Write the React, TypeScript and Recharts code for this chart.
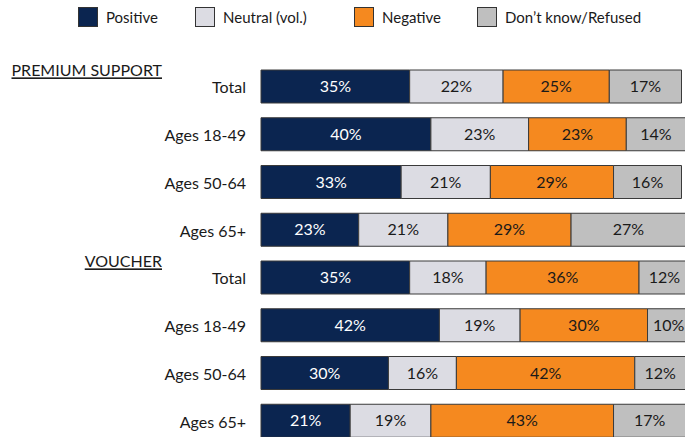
import { BarChart, Bar, XAxis, YAxis, LabelList } from "recharts";

const groups = ["Total", "Ages 18-49", "Ages 50-64", "Ages 65+", "Total", "Ages 18-49", "Ages 50-64", "Ages 65+"];
const headers = ["PREMIUM SUPPORT", "", "", "", "VOUCHER", "", "", ""];
const positive = [35, 40, 33, 23, 35, 42, 30, 21];
const neutral = [22, 23, 21, 21, 18, 19, 16, 19];
const negative = [25, 23, 29, 29, 36, 30, 42, 43];
const dontKnow = [17, 14, 16, 27, 12, 10, 12, 17];

const series = [
  { key: "positive", name: "Positive", color: "#0b2550", text: "#ffffff", lx: 78 },
  { key: "neutral", name: "Neutral (vol.)", color: "#dcdce3", text: "#1a1a1a", lx: 195 },
  { key: "negative", name: "Negative", color: "#f5891f", text: "#1a1a1a", lx: 354 },
  { key: "dontKnow", name: "Don\u2019t know/Refused", color: "#bfbfbf", text: "#1a1a1a", lx: 477 }
];

const data = groups.map((g, i) => ({
  id: i,
  label: g,
  positive: positive[i],
  neutral: neutral[i],
  negative: negative[i],
  dontKnow: dontKnow[i]
}));

const font = "Lato, 'Open Sans', sans-serif";

function GroupTick(props: any) {
  const { y, payload } = props;
  const i = payload.value;
  const head = headers[i];
  return (
    <g>
      <text x={246} y={y} dy={6.5} textAnchor="end" fontSize={16} fill="#1a1a1a" fontFamily={font}>
        {groups[i]}
      </text>
      {head && (
        <text
          x={162}
          y={y - 10.5}
          textAnchor="end"
          fontSize={16}
          fill="#1a1a1a"
          fontFamily={font}
          textDecoration="underline"
        >
          {head}
        </text>
      )}
    </g>
  );
}

function LegendBox() {
  return (
    <div style={{ position: "absolute", left: 0, top: 0, width: 685, height: 34, fontFamily: font, fontSize: 15, color: "#1a1a1a" }}>
      {series.map((s) => (
        <div key={s.key} style={{ position: "absolute", left: s.lx, top: 7, height: 20, display: "flex", alignItems: "center", gap: 8 }}>
          <span style={{ width: 18, height: 18, background: s.color, border: "1px solid #333", display: "inline-block" }} />
          <span>{s.name}</span>
        </div>
      ))}
    </div>
  );
}

export default function App() {
  return (
    <div style={{ position: "fixed", left: 0, top: 0, width: 685, height: 437, overflow: "hidden", background: "#fff" }}>
      <LegendBox />
      <BarChart
        width={690}
        height={445}
        data={data}
        layout="vertical"
        margin={{ top: 63, right: 0, bottom: 0, left: 0 }}
      >
        <XAxis type="number" domain={[0, 100]} hide />
        <YAxis
          type="category"
          dataKey="id"
          width={261}
          axisLine={false}
          tickLine={false}
          tick={<GroupTick />}
          interval={0}
        />
        {series.map((s) => (
          <Bar
            key={s.key}
            dataKey={s.key}
            name={s.name}
            stackId="a"
            fill={s.color}
            stroke="#3a3a3a"
            strokeWidth={1}
            barSize={33}
            isAnimationActive={false}
          >
            <LabelList
              dataKey={s.key}
              position="center"
              formatter={(v: any) => `${v}%`}
              fill={s.text}
              fontSize={16}
              fontFamily={font}
            />
          </Bar>
        ))}
      </BarChart>
    </div>
  );
}
